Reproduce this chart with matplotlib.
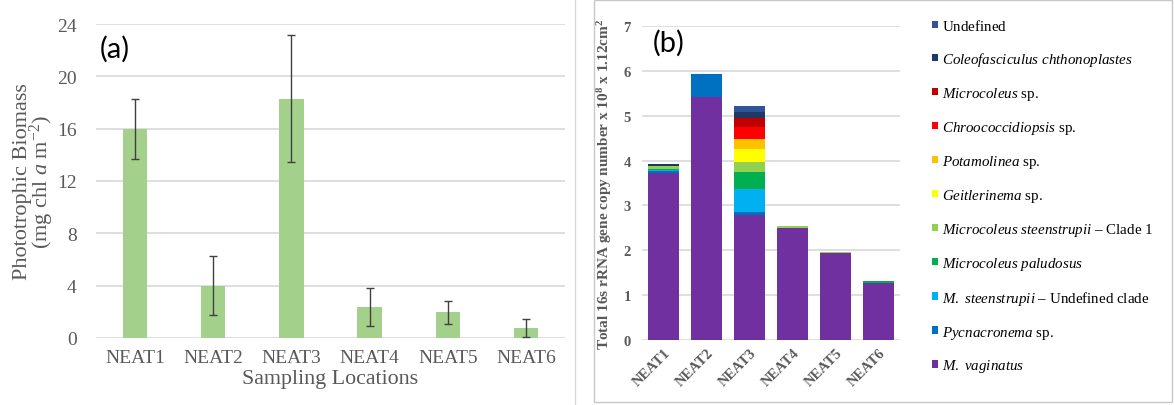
import numpy as np
import matplotlib
matplotlib.use("Agg")
import matplotlib.pyplot as plt
from matplotlib.patches import Rectangle
from matplotlib.lines import Line2D

# ---- data ----
sites = ["NEAT1", "NEAT2", "NEAT3", "NEAT4", "NEAT5", "NEAT6"]

# panel (a): chl a biomass and error
biomass = [15.95, 4.0, 18.3, 2.35, 1.95, 0.78]
biomass_err = [2.3, 2.25, 4.85, 1.45, 0.85, 0.7]

# panel (b): 16s copies, stacked bottom -> top
vaginatus = [3.72, 5.42, 2.78, 2.49, 1.94, 1.26]
pycnacronema = [0.04, 0.51, 0.07, 0.0, 0.0, 0.0]
steen_undef = [0.02, 0.0, 0.52, 0.0, 0.0, 0.0]
paludosus = [0.03, 0.0, 0.38, 0.0, 0.0, 0.06]
steen_clade1 = [0.08, 0.0, 0.21, 0.05, 0.03, 0.0]
geitlerinema = [0.0, 0.0, 0.29, 0.0, 0.0, 0.0]
potamolinea = [0.0, 0.0, 0.24, 0.0, 0.0, 0.0]
chroococcidiopsis = [0.0, 0.0, 0.26, 0.0, 0.0, 0.0]
microcoleus = [0.0, 0.0, 0.21, 0.0, 0.0, 0.0]
coleofasciculus = [0.03, 0.0, 0.13, 0.0, 0.0, 0.0]
undefined = [0.0, 0.0, 0.12, 0.0, 0.0, 0.0]

taxa = [vaginatus, pycnacronema, steen_undef, paludosus, steen_clade1, geitlerinema,
        potamolinea, chroococcidiopsis, microcoleus, coleofasciculus, undefined]
taxa_labels = [r"$\it{M.\ vaginatus}$",
               r"$\it{Pycnacronema}$ sp.",
               r"$\it{M.\ steenstrupii}$ – Undefined clade",
               r"$\it{Microcoleus\ paludosus}$",
               r"$\it{Microcoleus\ steenstrupii}$ – Clade 1",
               r"$\it{Geitlerinema}$ sp.",
               r"$\it{Potamolinea}$ sp.",
               r"$\it{Chroococcidiopsis}$ sp.",
               r"$\it{Microcoleus}$ sp.",
               r"$\it{Coleofasciculus\ chthonoplastes}$",
               r"$\mathrm{Undefined}$"]
taxa_colors = ["#7030a0", "#0070c0", "#00b0f0", "#00b050", "#92d050", "#ffff00",
               "#ffc000", "#ff0000", "#c00000", "#1f3864", "#2f5597"]

plt.rcParams["font.family"] = ["Liberation Serif", "DejaVu Serif"]
plt.rcParams["mathtext.fontset"] = "custom"
plt.rcParams["mathtext.rm"] = "Liberation Serif"
plt.rcParams["mathtext.it"] = "Liberation Serif:italic"
plt.rcParams["mathtext.bf"] = "Liberation Serif:bold"

grey = "#595959"
grid_c = "#d9d9d9"

fig = plt.figure(figsize=(11.74, 4.06), dpi=100)

# ---- panel (a) ----
ax1 = fig.add_axes([96 / 1174, 67 / 406, 469 / 1174, 314 / 406])
x = np.arange(len(sites))
ax1.bar(x, biomass, width=0.31, color="#a3d08a", zorder=2)
ax1.errorbar(x, biomass, yerr=biomass_err, fmt="none", ecolor="#404040",
             elinewidth=1, capsize=3, capthick=1, zorder=3)
ax1.set_xlim(-0.5, 5.5)
ax1.set_ylim(0, 24)
ax1.set_yticks([0, 4, 8, 12, 16, 20, 24])
ax1.set_xticks(x)
ax1.set_xticklabels(sites)
ax1.grid(axis="y", color=grid_c, linewidth=1.2, zorder=0)
for s in ax1.spines.values():
    s.set_visible(False)
ax1.tick_params(length=0, labelsize=14, labelcolor=grey)
ax1.tick_params(axis="y", pad=14)
ax1.tick_params(axis="x", pad=8)
ax1.set_ylabel("Phototrophic Biomass\n(mg chl $\\it{a}$ m$^{-2}$)", fontsize=16,
               color=grey, linespacing=0.8)
ax1.yaxis.set_label_coords(-0.085, 0.5)
ax1.set_xlabel("Sampling Locations", fontsize=15.8, color=grey)
ax1.xaxis.set_label_coords(0.5, -0.1)
ax1.text(0.008, 0.965, "(a)", transform=ax1.transAxes, fontsize=21,
         family="Lato", va="top", ha="left")

# ---- panel (b) ----
ax2 = fig.add_axes([642 / 1174, 65 / 406, 258 / 1174, 314 / 406])
bottom = np.zeros(len(sites))
handles = []
for vals, lab, col in zip(taxa, taxa_labels, taxa_colors):
    b = ax2.bar(x, vals, bottom=bottom, width=0.71, color=col, label=lab, zorder=2)
    bottom += np.array(vals)
    handles.append(b)
ax2.set_xlim(-0.5, 5.5)
ax2.set_ylim(0, 7)
ax2.set_yticks(range(8))
ax2.set_xticks(x)
ax2.set_xticklabels(sites, rotation=45, ha="right", rotation_mode="anchor",
                    fontweight="bold")
ax2.grid(axis="y", color=grid_c, linewidth=1.2, zorder=0)
for s in ax2.spines.values():
    s.set_visible(False)
ax2.tick_params(length=0, labelsize=10.5, labelcolor=grey)
ax2.tick_params(axis="y", pad=8)
ax2.tick_params(axis="x", pad=4)
for t in ax2.get_yticklabels():
    t.set_fontweight("bold")
ax2.set_ylabel(r"Total 16s rRNA gene copy number x 10$^\mathbf{8}$ x 1.12cm$^\mathbf{2}$",
               fontsize=11, fontweight="bold", color=grey)
ax2.yaxis.set_label_coords(-0.11, 0.5)
ax2.text(0.04, 0.99, "(b)", transform=ax2.transAxes, fontsize=21,
         family="Lato", va="top", ha="left")

leg = fig.legend(handles[::-1], taxa_labels[::-1], loc="upper left",
                 bbox_to_anchor=(926 / 1174, 1 - 13 / 406), frameon=False,
                 fontsize=10.8, handlelength=0.4, handleheight=0.4,
                 handletextpad=0.25, labelspacing=1.13, borderaxespad=0)

# panel frames
fig.add_artist(Line2D([575 / 1174, 575 / 1174], [0, 1], color=grid_c, linewidth=1))
fig.add_artist(Rectangle((594 / 1174, 3 / 406), 578 / 1174, 402 / 406, fill=False,
                         edgecolor="#c8c8c8", linewidth=1))

plt.savefig("out.png", dpi=100)
